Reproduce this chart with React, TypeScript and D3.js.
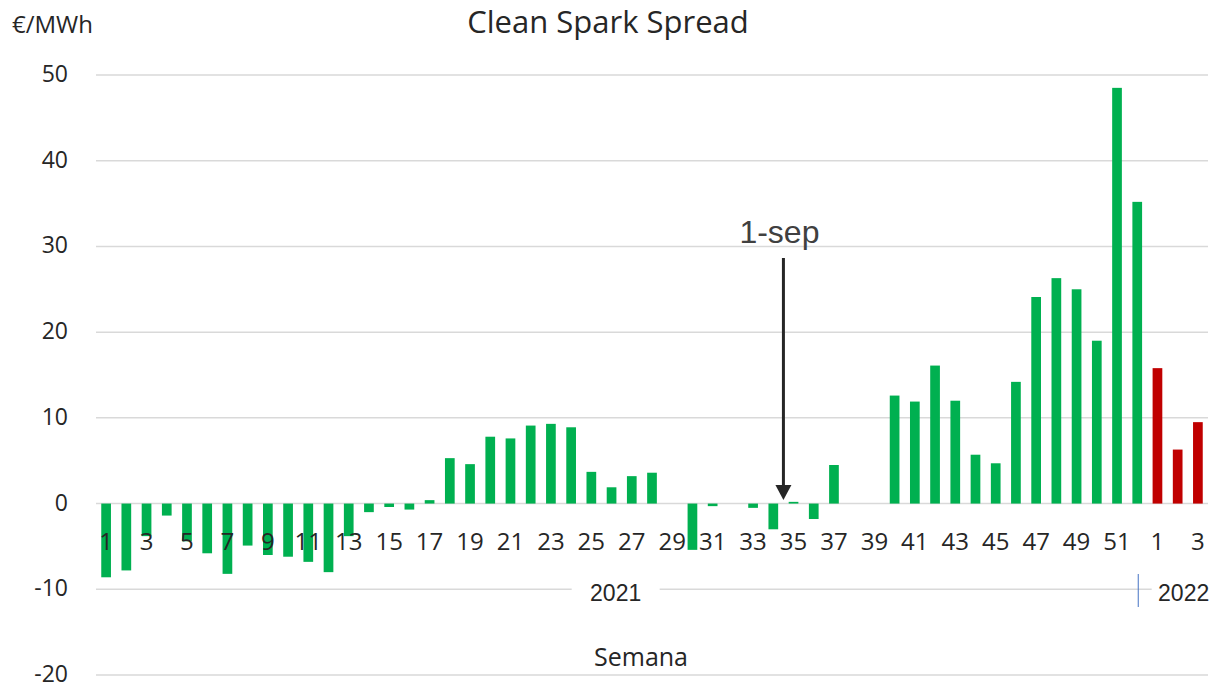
import React, { useEffect, useRef } from 'react';
import * as d3 from 'd3';

// semanas 2021 y 2022
const weeks2021 = ['1','2','3','4','5','6','7','8','9','10','11','12','13','14','15','16','17','18','19','20','21','22','23','24','25','26','27','28','29','30','31','32','33','34','35','36','37','38','39','40','41','42','43','44','45','46','47','48','49','50','51','52'];
const weeks2022 = ['1','2','3'];

// clean spark spread, €/MWh
const spread2021 = [-8.6, -7.8, -3.8, -1.4, -4.4, -5.8, -8.2, -4.9, -6.0, -6.2, -6.8, -8.0, -3.8, -1.0, -0.4, -0.7, 0.4, 5.3, 4.6, 7.8, 7.6, 9.1, 9.3, 8.9, 3.7, 1.9, 3.2, 3.6, 0, -5.4, -0.3, 0, -0.5, -3.0, 0.2, -1.8, 4.5, 0, 0, 12.6, 11.9, 16.1, 12.0, 5.7, 4.7, 14.2, 24.1, 26.3, 25.0, 19.0, 48.5, 35.2];
const spread2022 = [15.8, 6.3, 9.5];

const yTicks = [-20, -10, 0, 10, 20, 30, 40, 50];
const years = ['2021', '2022'];
const annotation = { year: '2021', week: '35', label: '1-sep' };

const W = 1216, H = 687;
const font = '"Open Sans", "Noto Sans", sans-serif';
const arial = '"Liberation Sans", Arial, sans-serif';

export default function App() {
  const ref = useRef<SVGSVGElement>(null);

  useEffect(() => {
    const svg = d3.select(ref.current);
    svg.selectAll('*').remove();

    const rows = [
      ...weeks2021.map((w, i) => ({ key: '2021-' + w, week: w, year: '2021', value: spread2021[i] })),
      ...weeks2022.map((w, i) => ({ key: '2022-' + w, week: w, year: '2022', value: spread2022[i] })),
    ];

    const x = d3.scaleBand().domain(rows.map(d => d.key)).range([96, 1208]).paddingInner(0.52).paddingOuter(0.26);
    const y = d3.scaleLinear().domain([-20, 50]).range([675, 75]);

    // gridlines
    svg.append('g')
      .selectAll('line')
      .data(yTicks)
      .join('line')
      .attr('x1', 96).attr('x2', 1208)
      .attr('y1', d => y(d)).attr('y2', d => y(d))
      .attr('stroke', '#d9d9d9').attr('stroke-width', 1.5);

    // y tick labels
    svg.append('g')
      .attr('font-family', font).attr('font-size', 23).attr('fill', '#262626')
      .attr('text-anchor', 'end')
      .selectAll('text')
      .data(yTicks)
      .join('text')
      .attr('x', 68).attr('y', d => y(d) + 7)
      .text(d => d);

    svg.append('text')
      .attr('x', 12).attr('y', 33)
      .attr('font-family', font).attr('font-size', 24).attr('fill', '#262626')
      .text('€/MWh');

    svg.append('text')
      .attr('x', 608).attr('y', 33)
      .attr('text-anchor', 'middle')
      .attr('font-family', font).attr('font-size', 31).attr('fill', '#262626')
      .text('Clean Spark Spread');

    // bars
    svg.append('g')
      .selectAll('rect')
      .data(rows)
      .join('rect')
      .attr('x', d => x(d.key)!)
      .attr('width', x.bandwidth())
      .attr('y', d => y(Math.max(0, d.value)))
      .attr('height', d => Math.abs(y(d.value) - y(0)))
      .attr('fill', d => d.year === '2022' ? '#c00000' : '#00b050');

    // week labels, every other one
    svg.append('g')
      .attr('font-family', font).attr('font-size', 24).attr('fill', '#262626')
      .attr('text-anchor', 'middle')
      .selectAll('text')
      .data(rows.filter(d => +d.week % 2 === 1))
      .join('text')
      .attr('x', d => x(d.key)! + x.bandwidth() / 2)
      .attr('y', 550)
      .text(d => d.week);

    // year level of the axis
    const yearG = svg.append('g');
    years.forEach(yr => {
      const keys = rows.filter(d => d.year === yr);
      const x0 = x(keys[0].key)! - x.step() * 0.26;
      const x1 = x(keys[keys.length - 1].key)! + x.bandwidth() + x.step() * 0.26;
      const cx = yr === '2021' ? (x0 + x1) / 2 - 6 : (x0 + x1) / 2 + 6;
      const bw = yr === '2021' ? 88 : 64;
      yearG.append('rect').attr('x', cx - bw / 2).attr('y', 578).attr('width', bw).attr('height', 24).attr('fill', '#fff');
      yearG.append('text')
        .attr('x', cx).attr('y', 601)
        .attr('text-anchor', 'middle')
        .attr('font-family', arial).attr('font-size', 23).attr('fill', '#262626')
        .text(yr);
    });
    const last21 = x('2021-52')! + x.bandwidth() / 2 + 1;
    yearG.append('line')
      .attr('x1', last21).attr('x2', last21).attr('y1', 574).attr('y2', 607)
      .attr('stroke', '#4472c4').attr('stroke-width', 1);

    svg.append('text')
      .attr('x', 641).attr('y', 666)
      .attr('text-anchor', 'middle')
      .attr('font-family', font).attr('font-size', 25).attr('fill', '#262626')
      .text('Semana');

    // 1-sep arrow
    const ax = x(annotation.year + '-' + annotation.week)! - (x.step() - x.bandwidth()) / 2;
    svg.append('line')
      .attr('x1', ax).attr('x2', ax).attr('y1', 258).attr('y2', 488)
      .attr('stroke', '#262626').attr('stroke-width', 3);
    svg.append('path')
      .attr('d', `M${ax - 8},${485} L${ax + 8},${485} L${ax},${500} Z`)
      .attr('fill', '#262626');
    svg.append('text')
      .attr('x', ax - 4).attr('y', 243)
      .attr('text-anchor', 'middle')
      .attr('font-family', arial).attr('font-size', 32).attr('fill', '#404040')
      .text(annotation.label);
  }, []);

  return <svg ref={ref} width={W} height={H} style={{ position: 'absolute', left: 0, top: 0, background: '#fff' }} />;
}
